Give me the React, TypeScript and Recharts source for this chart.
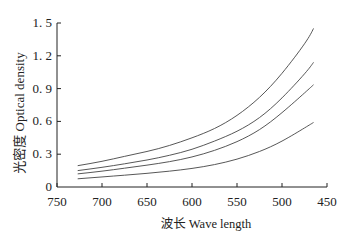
import React from 'react';
import { LineChart, Line, XAxis, YAxis, Label } from 'recharts';

const wavelengths = [727, 700, 675, 650, 625, 600, 575, 550, 525, 500, 475, 465];
const curveA = [0.195, 0.235, 0.28, 0.325, 0.38, 0.45, 0.535, 0.655, 0.82, 1.04, 1.31, 1.45];
const curveB = [0.15, 0.18, 0.212, 0.247, 0.29, 0.345, 0.42, 0.51, 0.635, 0.815, 1.035, 1.14];
const curveC = [0.12, 0.145, 0.172, 0.2, 0.232, 0.275, 0.335, 0.415, 0.525, 0.68, 0.86, 0.935];
const curveD = [0.075, 0.092, 0.108, 0.125, 0.145, 0.17, 0.205, 0.255, 0.325, 0.42, 0.54, 0.59];

const xTicks = [750, 700, 650, 600, 550, 500, 450];
const yTicks = [0, 0.3, 0.6, 0.9, 1.2, 1.5];

const data = wavelengths.map((w, i) => ({
  w,
  a: curveA[i],
  b: curveB[i],
  c: curveC[i],
  d: curveD[i],
}));

const FONT = '"Liberation Serif", "Noto Sans CJK SC", serif';
const INK = '#222';

const fmtY = (v: number) => (v === 0 ? '0' : v.toFixed(1).replace('.', '. '));

// ticks point inward, so draw them ourselves
function XTick(props: any) {
  const { x, y, payload } = props;
  const axisY = y - 10;
  return (
    <g>
      <line x1={x} x2={x} y1={axisY} y2={axisY - 4} stroke={INK} />
      <text x={x} y={y} dy={9} textAnchor="middle" fontSize={13} fontFamily={FONT} fill={INK}>
        {payload.value}
      </text>
    </g>
  );
}

function YTick(props: any) {
  const { x, y, payload } = props;
  const axisX = x + 5;
  return (
    <g>
      {payload.value !== 0 && (
        <line x1={axisX} x2={axisX + 4} y1={y} y2={y} stroke={INK} />
      )}
      <text x={x} y={y} dy={4} textAnchor="end" fontSize={13} fontFamily={FONT} fill={INK}>
        {fmtY(payload.value)}
      </text>
    </g>
  );
}

export default function App() {
  const lines = ['a', 'b', 'c', 'd'];
  return (
    <div style={{ width: 354, height: 246, background: '#fff' }}>
      <style>{'body{margin:0}'}</style>
      <LineChart width={354} height={246} data={data} margin={{ top: 23, right: 27, bottom: 0, left: 0 }}>
        <XAxis
          dataKey="w"
          type="number"
          domain={[450, 750]}
          reversed
          ticks={xTicks}
          interval={0}
          height={59}
          tickSize={0}
          tickMargin={10}
          tick={<XTick />}
          axisLine={{ stroke: INK }}
        >
          <Label
            content={() => (
              <text x={206} y={228} textAnchor="middle" fontSize={12.5} fontFamily={FONT} fill={INK}>
                波长 Wave length
              </text>
            )}
          />
        </XAxis>
        <YAxis
          type="number"
          domain={[0, 1.5]}
          ticks={yTicks}
          interval={0}
          width={57}
          tickSize={0}
          tickMargin={5}
          tick={<YTick />}
          axisLine={{ stroke: INK }}
        >
          <Label
            content={() => (
              <text
                x={24}
                y={113}
                transform="rotate(-90 24 113)"
                textAnchor="middle"
                fontSize={13}
                fontFamily={FONT}
                fill={INK}
              >
                光密度 Optical density
              </text>
            )}
          />
        </YAxis>
        {lines.map((k) => (
          <Line
            key={k}
            dataKey={k}
            type="natural"
            stroke="#444"
            strokeWidth={0.9}
            dot={false}
            isAnimationActive={false}
          />
        ))}
      </LineChart>
    </div>
  );
}
